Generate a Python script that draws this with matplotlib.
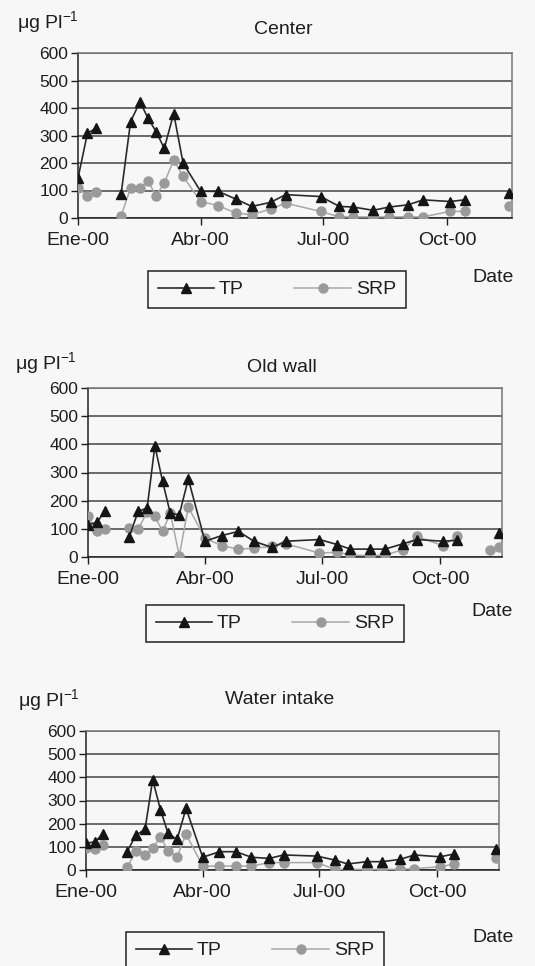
import numpy as np
import matplotlib

matplotlib.use("Agg")
import matplotlib.pyplot as plt  # noqa: E402

nan = np.nan

# sampling dates (2000); gaps are dates with no sample
DATES = np.array([
    "2000-01-01", "2000-01-08", "2000-01-14", "2000-01-23", "2000-02-02",
    "2000-02-09", "2000-02-16", "2000-02-22", "2000-02-28", "2000-03-05",
    "2000-03-12", "2000-03-19", "2000-04-01", "2000-04-14", "2000-04-27",
    "2000-05-09", "2000-05-23", "2000-06-03", "2000-06-29", "2000-07-13",
    "2000-07-23", "2000-08-07", "2000-08-19", "2000-09-02", "2000-09-13",
    "2000-10-03", "2000-10-14", "2000-10-27", "2000-11-09", "2000-11-16",
], dtype="datetime64[D]")

TICK_DATES = np.array(["2000-01-01", "2000-04-01", "2000-07-01", "2000-10-01"],
                      dtype="datetime64[D]")
TICK_LABELS = ["Ene-00", "Abr-00", "Jul-00", "Oct-00"]

center_tp = [145, 308, 326, nan, 88, 350, 423, 362, 314, 253, 380, 199, 97, 97, 69,
             42, 57, 85, 78, 42, 40, 28, 40, 48, 66, 60, 66, nan, nan, 90]
center_srp = [109, 81, 93, nan, 8, 109, 109, 133, 81, 127, 211, 151, 60, 45, 18,
              12, 33, 54, 24, 4, 4, 4, 4, 4, 4, 24, 24, nan, nan, 45]

oldwall_tp = [115, 123, 162, nan, 71, 162, 174, 395, 269, 155, 150, 277, 56, 76, 91,
              56, 34, 56, 62, 44, 28, 28, 28, 47, 62, 56, 59, nan, nan, 85]
oldwall_srp = [147, 91, 99, nan, 103, 99, 159, 144, 91, 156, 5, 177, 67, 40, 28,
               31, 38, 47, 14, 17, 7, 5, 7, 26, 73, 40, 73, nan, 26, 34]

intake_tp = [115, 122, 155, nan, 79, 151, 175, 390, 261, 158, 132, 266, 55, 79, 79,
             55, 50, 65, 60, 43, 26, 36, 36, 46, 65, 57, 69, nan, nan, 89]
intake_srp = [93, 89, 108, nan, 11, 83, 65, 93, 144, 83, 57, 155, 17, 17, 17,
              17, 32, 32, 32, 3, 3, 3, 3, 3, 6, 14, 26, nan, nan, 50]

TITLES = ["Center", "Old wall", "Water intake"]
SERIES = [(center_tp, center_srp), (oldwall_tp, oldwall_srp), (intake_tp, intake_srp)]

# figure-pixel layout of each panel: axes box, title, unit label, date label, legend
W, H = 535, 966
LAYOUT = [
    dict(box=(78, 53, 512, 218), title=(283, 30), unit=(17, 22), date=(493, 277), leg=(148, 271)),
    dict(box=(88, 388, 502, 557), title=(282, 368), unit=(15, 363), date=(492, 612), leg=(146, 605)),
    dict(box=(86, 731, 499, 870), title=(280, 700), unit=(18, 700), date=(493, 938), leg=(126, 932)),
]

plt.rcParams.update({
    "font.family": ["Liberation Sans", "DejaVu Sans"],
    "mathtext.default": "regular",
    "text.color": "#1e1e1e",
    "xtick.color": "#1e1e1e",
    "ytick.color": "#1e1e1e",
})

BG = "#f7f7f7"
fig = plt.figure(figsize=(W / 100, H / 100), dpi=100, facecolor=BG)


def fx(x):
    return x / W


def fy(y):
    return 1 - y / H


for title, (tp, srp), lay in zip(TITLES, SERIES, LAYOUT):
    x0, y0, x1, y1 = lay["box"]
    ax = fig.add_axes([fx(x0), fy(y1), (x1 - x0) / W, (y1 - y0) / H])
    ax.set_facecolor(BG)

    ax.plot(DATES, np.array(srp, dtype=float), color="#a8a8a8", lw=1.1,
            marker="o", ms=6.5, mfc="#9a9a9a", mec="#9a9a9a", label="SRP", zorder=3)
    ax.plot(DATES, np.array(tp, dtype=float), color="#2a2a2a", lw=1.2,
            marker="^", ms=7.5, mfc="#151515", mec="#151515", label="TP", zorder=4)

    ax.set_ylim(0, 600)
    ax.set_yticks(range(0, 601, 100))
    ax.set_xlim(np.datetime64("2000-01-01"), np.datetime64("2000-11-18"))
    ax.set_xticks(TICK_DATES)
    ax.set_xticklabels(TICK_LABELS)
    ax.tick_params(axis="y", labelsize=12.5, length=5, width=1, pad=2, direction="out")
    ax.tick_params(axis="x", labelsize=14, length=5, width=1, pad=5, direction="out")
    ax.grid(axis="y", color="#444444", lw=1.1)
    ax.set_axisbelow(True)
    for side, sp in ax.spines.items():
        sp.set_linewidth(1.1)
        sp.set_color("#222222" if side in ("left", "bottom") else "#777777")

    fig.text(fx(lay["title"][0]), fy(lay["title"][1]), title, fontsize=14,
             ha="center", va="center")
    fig.text(fx(lay["unit"][0]), fy(lay["unit"][1]), "μg Pl$^{-1}$", fontsize=14,
             ha="left", va="center")
    fig.text(fx(lay["date"][0]), fy(lay["date"][1]), "Date", fontsize=14,
             ha="center", va="center")

    h, lab = ax.get_legend_handles_labels()
    leg = fig.legend(h[::-1], lab[::-1], loc="upper left",
                     bbox_to_anchor=(fx(lay["leg"][0]), fy(lay["leg"][1])),
                     ncol=2, fontsize=14, frameon=True, fancybox=False,
                     edgecolor="#222222", facecolor=BG, framealpha=1,
                     borderaxespad=0, borderpad=0.5, handlelength=2.9,
                     handletextpad=0.25, columnspacing=2.6)
    leg.get_frame().set_linewidth(1.1)

fig.savefig("out.png", dpi=100, facecolor=BG)
